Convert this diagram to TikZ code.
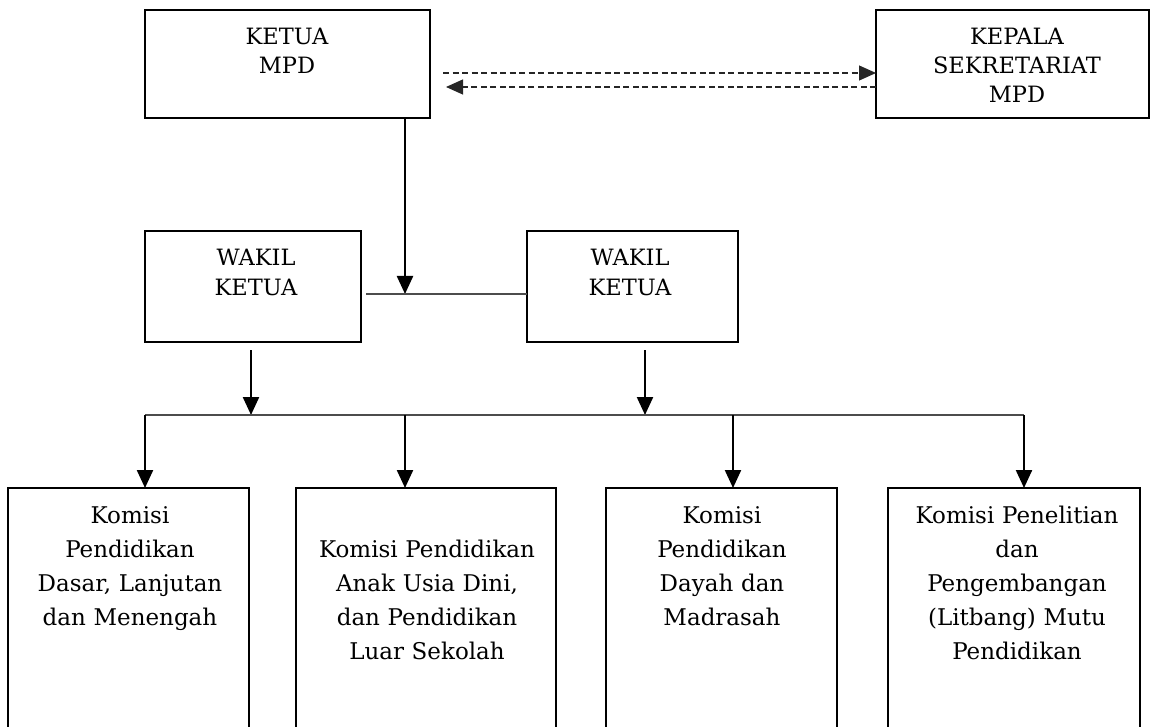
\documentclass[tikz,border=0pt]{standalone}
\usepackage{fontspec}
\setmainfont{DejaVu Serif}
\usetikzlibrary{arrows.meta,calc}
\begin{document}
\begin{tikzpicture}[x=1pt,y=-1pt,
  box/.style={draw, line width=2.8pt, rectangle, inner sep=0pt, outer sep=0pt, anchor=north west},
  toptxt/.style={text width=300pt, align=center, inner sep=0pt, anchor=base, font=\fontsize{22.5}{29}\selectfont},
  bottxt/.style={text width=250pt, align=center, inner sep=0pt, anchor=base, font=\fontsize{23}{34}\selectfont},
  arr/.style={line width=2.3pt, -{Triangle[width=16pt,length=18pt]}},
  thinline/.style={line width=1.5pt, draw=black!70},
  dashline/.style={line width=1.2pt, draw=black!85, dash pattern=on 6pt off 3.5pt, -{Triangle[width=15pt,length=17pt]}}
]
\useasboundingbox (0,0) rectangle (1151,727);
\clip (0,0) rectangle (1151,727);

% boxes
\node[box, minimum width=285pt, minimum height=108pt] (ketua) at (145,10) {};
\node[box, minimum width=273pt, minimum height=108pt] (kepala) at (876,10) {};
\node[box, minimum width=216pt, minimum height=111pt] (wakilL) at (145,231) {};
\node[box, minimum width=211pt, minimum height=111pt] (wakilR) at (527,231) {};
\node[box, minimum width=241pt, minimum height=260pt] (kom1) at (8,488) {};
\node[box, minimum width=260pt, minimum height=260pt] (kom2) at (296,488) {};
\node[box, minimum width=231pt, minimum height=260pt] (kom3) at (606,488) {};
\node[box, minimum width=252pt, minimum height=260pt] (kom4) at (888,488) {};

% texts
\node[toptxt] (ketuaT) at (287,45) {KETUA\\MPD};
\node[toptxt] (kepalaT) at (1017,45) {KEPALA\\SEKRETARIAT\\MPD};
\node[toptxt] (wakilLT) at (256,266) {WAKIL\\KETUA};
\node[toptxt] (wakilRT) at (630,266) {WAKIL\\KETUA};
\node[bottxt] (kom1T) at (130,523) {Komisi\\Pendidikan\\Dasar, Lanjutan\\dan Menengah};
\node[bottxt] (kom2T) at (427,557) {Komisi Pendidikan\\Anak Usia Dini,\\dan Pendidikan\\Luar Sekolah};
\node[bottxt] (kom3T) at (722,523) {Komisi\\Pendidikan\\Dayah dan\\Madrasah};
\node[bottxt] (kom4T) at (1017,523) {Komisi Penelitian\\dan\\Pengembangan\\(Litbang) Mutu\\Pendidikan};

% junction coordinates
\coordinate (jk) at (405,294);
\coordinate (b1) at (251,415);
\coordinate (b2) at (645,415);
\coordinate (d1) at (145,415);
\coordinate (d2) at (405,415);
\coordinate (d3) at (733,415);
\coordinate (d4) at (1024,415);

% dashed link between KETUA and KEPALA
\draw[dashline] ($(ketua.north east)+(13,63)$) -- ($(kepala.north west)+(0,63)$);
\draw[dashline] ($(kepala.north west)+(0,77)$) -- ($(ketua.north east)+(16,77)$);

% KETUA down to wakil line
\draw[arr] (ketua.south -| jk) -- (jk);
\draw[thinline] ($(wakilL.east |- jk)+(5,0)$) -- (wakilR.west |- jk);

% wakil down to bus
\draw[arr] ($(wakilL.south -| b1)+(0,8)$) -- (b1);
\draw[arr] ($(wakilR.south -| b2)+(0,8)$) -- (b2);
\draw[thinline] (d1) -- (d4);

% bus down to komisi boxes
\draw[arr] (d1) -- (d1 |- kom1.north);
\draw[arr] (d2) -- (d2 |- kom2.north);
\draw[arr] (d3) -- (d3 |- kom3.north);
\draw[arr] (d4) -- (d4 |- kom4.north);
\end{tikzpicture}
\end{document}
